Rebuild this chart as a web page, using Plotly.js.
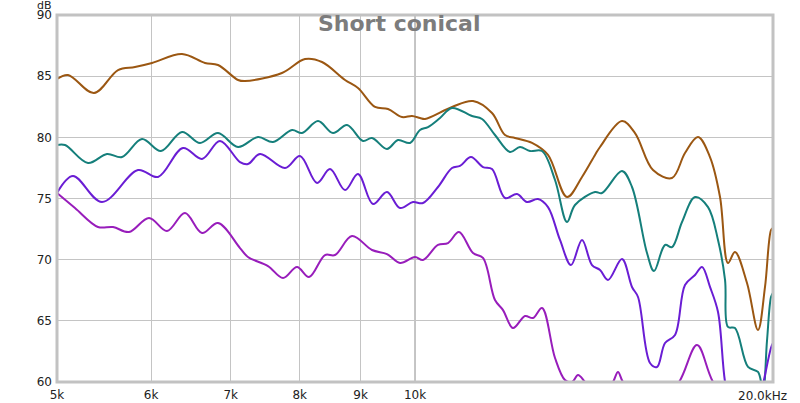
<!DOCTYPE html>
<html>
<head>
<meta charset="utf-8">
<script src="https://cdn.plot.ly/plotly-3.0.1.min.js"></script>
<style>html,body{margin:0;padding:0;background:#fff;}#chart{width:800px;height:403px;}</style>
</head>
<body>
<div id="chart"></div>
<script>
// Frequencies (Hz) and levels (dB)
const brownF = [5000,5108,5371,5627,5815,6010,6369,6659,6829,7099,7195,7729,8082,8352,8733,8955,9255,9491,9751,9942,10097,10196,10743,11189,11608,11904,12137,12543,12937,13422,13818,14170,14308,14930,15311,15854,16448,16867,17297,17703,18050,18331,18581,19018,19428,19693,19923,20000];
const brownDb = [84.77,85.1,83.62,85.5,85.75,86.08,86.81,86.08,85.91,84.69,84.6,85.26,86.4,86.16,84.69,84.03,82.48,82.32,81.66,81.74,81.58,81.5,82.48,82.97,81.99,80.19,79.95,79.54,78.56,75.12,76.76,78.56,79.21,81.33,80.35,77.33,76.68,78.72,80.03,78.39,75.12,69.73,70.63,68.09,64.25,67.77,72.42,72.6];

const tealF = [5000,5078,5309,5508,5671,5894,6115,6369,6595,6829,7099,7379,7596,7881,8035,8288,8532,8767,9042,9201,9472,9676,9904,10097,10255,10496,10743,11167,11385,11675,12019,12254,12494,12788,13114,13422,13631,14170,14363,14930,15222,15671,15885,16227,16448,16770,17197,17636,17980,18226,18331,18581,19056,19428,19617,19770,19923,20000];
const tealDb = [79.37,79.37,77.9,78.64,78.39,79.86,78.88,80.44,79.54,80.35,79.21,80.03,79.62,80.6,80.35,81.33,80.35,81.01,79.7,79.95,79.05,79.78,79.54,80.6,80.84,81.58,82.4,81.74,81.5,80.19,78.8,79.21,78.88,78.88,76.51,73.08,74.47,75.53,75.45,77.25,75.94,70.54,69.07,71.2,71.03,73.08,75.12,74.3,71.61,68.34,64.5,64.41,61.23,60.82,59.3,63.4,66.95,67.3];

const violetF = [5000,5157,5455,5849,6080,6381,6621,6855,7126,7237,7408,7775,8004,8272,8483,8733,8955,9219,9472,9714,9961,10156,10455,10743,10910,11145,11407,11608,11904,12183,12422,12689,12937,13241,13526,13818,14088,14308,14531,14930,15222,15400,15762,15977,16227,16544,16867,17197,17432,17703,17980,18226,18581,19130,19617,19923,20000];
const violetDb = [75.45,76.84,74.71,77.33,76.76,79.13,78.23,79.7,77.98,77.82,78.64,77.49,78.47,76.27,77.41,75.69,77.0,74.55,75.53,74.22,74.71,74.63,75.94,77.49,77.66,78.39,77.57,77.41,75.04,75.37,74.71,74.96,74.3,71.61,69.56,71.61,69.56,69.15,68.34,70.05,67.77,66.95,61.55,61.23,63.19,63.84,67.93,68.75,69.4,67.77,65.72,60.0,56.0,55.0,59.8,62.8,63.2];

const magentaF = [5000,5177,5413,5573,5748,5975,6187,6406,6621,6829,7126,7237,7523,7745,7958,8145,8401,8565,8852,9201,9472,9714,10000,10156,10455,10660,10889,11189,11407,11675,11858,12089,12373,12567,12788,13114,13370,13552,13711,13898,14308,14672,14815,14959,15460,16070,16673,17264,17807,18763,20000];
const magentaDb = [75.45,74.22,72.67,72.67,72.26,73.41,72.34,73.81,72.18,73.0,70.95,70.22,69.48,68.5,69.4,68.58,70.38,70.38,71.93,70.79,70.46,69.73,70.22,69.97,71.2,71.36,72.26,70.54,70.14,66.7,65.88,64.41,65.39,65.23,66.05,61.96,60.16,60.0,60.57,60.0,58.5,60.0,60.82,60.0,58.5,58.5,60.0,63.02,60.0,57.0,56.0];

const xTickVals = [5000,6000,7000,8000,9000,10000];
const xTickText = ['5k','6k','7k','8k','9k','10k'];
const yTickVals = [60,65,70,75,80,85,90];

const series = [
  {x: brownF, y: brownDb, color: '#9b5712'},
  {x: tealF, y: tealDb, color: '#157f7b'},
  {x: violetF, y: violetDb, color: '#6a1dd4'},
  {x: magentaF, y: magentaDb, color: '#981dbb'}
];

const traces = series.map(s => ({
  x: s.x, y: s.y, type: 'scatter', mode: 'lines',
  line: {color: s.color, width: 2, shape: 'spline', smoothing: 1},
  hoverinfo: 'skip', showlegend: false
}));

const font = {family: 'DejaVu Sans, Verdana, sans-serif', size: 12, color: '#222'};

const layout = {
  width: 800, height: 403,
  margin: {l: 57, r: 27, t: 15, b: 21, pad: 0},
  paper_bgcolor: '#fff', plot_bgcolor: '#fff',
  font: font,
  showlegend: false,
  xaxis: {
    type: 'log', range: [Math.log10(5000), Math.log10(20000)],
    tickvals: xTickVals, ticktext: xTickText,
    showgrid: true, gridcolor: '#c4c4c4', gridwidth: 1,
    zeroline: false, showline: false, ticks: '', ticklen: 0,
    tickfont: font, fixedrange: true, ticklabelstandoff: 4
  },
  yaxis: {
    range: [60, 90], tickvals: yTickVals,
    showgrid: true, gridcolor: '#c4c4c4', gridwidth: 1,
    zeroline: false, showline: false, ticks: '', ticklen: 0,
    tickfont: font, fixedrange: true, ticklabelstandoff: 4
  },
  shapes: [
    {type: 'line', xref: 'x', yref: 'paper', x0: 10000, x1: 10000, y0: 0, y1: 1,
     line: {color: '#8c8c8c', width: 1}, layer: 'below'},
    {type: 'rect', xref: 'paper', yref: 'paper', x0: 0, x1: 1, y0: 0, y1: 1,
     line: {color: '#c2c2c2', width: 3}, layer: 'above'}
  ],
  annotations: [
    {text: 'Short conical', xref: 'paper', yref: 'paper', x: 0.478, y: 0.978,
     xanchor: 'center', yanchor: 'middle', showarrow: false,
     font: {family: 'DejaVu Sans, Verdana, sans-serif', size: 22, color: '#7c7c7c', weight: 'bold'}},
    {text: 'dB', xref: 'paper', yref: 'paper', x: -0.004, y: 1.026,
     xanchor: 'right', yanchor: 'middle', showarrow: false,
     font: {family: 'DejaVu Sans, Verdana, sans-serif', size: 11, color: '#222'}},
    {text: '20.0kHz', xref: 'paper', yref: 'paper', x: 1, y: 0, xshift: 16, yshift: -5,
     xanchor: 'right', yanchor: 'top', showarrow: false, font: font}
  ]
};

Plotly.newPlot('chart', traces, layout, {displayModeBar: false, staticPlot: true});
</script>
</body>
</html>
